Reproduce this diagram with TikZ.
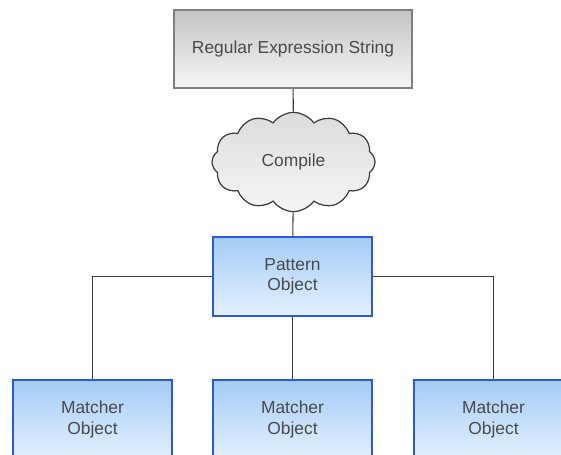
\documentclass[tikz,border=0pt]{standalone}
\usepackage{fontspec}
\setmainfont{Liberation Sans}
\usepackage{tikz}
\usetikzlibrary{positioning,shapes.symbols}
\definecolor{ink}     {HTML}{3C3C3C}
\definecolor{txt}     {HTML}{4A4A4A}
\definecolor{frame}   {HTML}{7E7E7E}
\definecolor{blueline}{HTML}{2A58E0}
\definecolor{bluetop} {HTML}{A4CCF6}
\definecolor{bluebot} {HTML}{E4F1FE}
\definecolor{greytop} {HTML}{C4C4C4}
\definecolor{greybot} {HTML}{F6F6F6}
\tikzset{
  every node/.style={font=\fontsize{9.9pt}{11.4pt}\selectfont, text=txt},
  % --- edges
  link/.style = {draw=ink, line width=0.6pt},
}

\begin{document}
\begin{tikzpicture}[
  src/.style={draw=frame, line width=0.9pt, top color=greytop, bottom color=greybot,
              align=center, minimum width=4.76cm, minimum height=1.56cm, inner sep=0pt},
  obj/.style={draw=blueline, line width=0.8pt, top color=bluetop, bottom color=bluebot,
              align=center, minimum width=3.18cm, minimum height=1.58cm, inner sep=0pt},
  step cloud/.style={cloud, cloud puffs=12, cloud puff arc=110, draw=ink, line width=0.7pt,
              top color=greytop!60, bottom color=greybot, minimum width=3.26cm,
              minimum height=1.64cm, inner sep=0pt},
]
  \useasboundingbox (0,0) rectangle (11.22,-9.08);
  \clip (0,0) rectangle (11.22,-9.08);

  \node[src] (regex) at (5.86,-0.98) {Regular Expression String};
  \node[step cloud] (compile) at (5.87,-3.24) {Compile};
  \node[obj] (pattern) at (5.85,-5.53) {Pattern\\Object};

  \node[obj] (m1) at (1.85,-8.39) {Matcher\\Object};
  \node[obj] (m2) at (5.85,-8.39) {Matcher\\Object};
  \node[obj] (m3) at (9.87,-8.39) {Matcher\\Object};

  \draw[link] (regex) -- (compile);
  \draw[link] (compile) -- (pattern);
  \draw[link] (pattern.west) -| (m1.north);
  \draw[link] (pattern) -- (m2);
  \draw[link] (pattern.east) -| (m3.north);
\end{tikzpicture}
\end{document}
